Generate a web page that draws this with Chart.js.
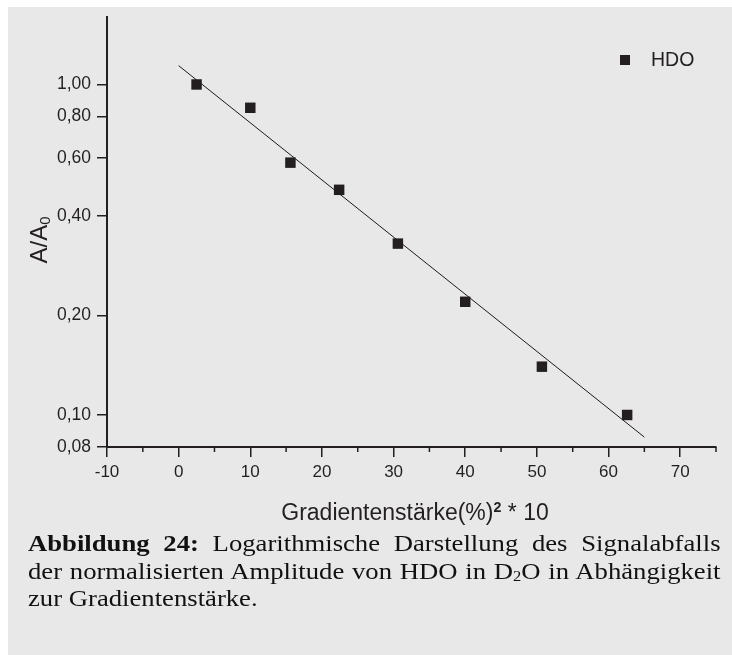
<!DOCTYPE html>
<html lang="de">

<head>
    <meta charset="UTF-8">
    <title>Abbildung 24 - Signalabfall HDO</title>

    <!-- Chart.js -->
    <script src="https://cdn.jsdelivr.net/npm/chart.js"></script>

    <style>
        html, body {
            margin: 0;
            padding: 0;
            background: #ffffff;
            width: 732px;
            height: 655px;
            overflow: hidden;
        }

        /* grey figure panel */
        .panel {
            position: absolute;
            left: 8px;
            top: 7px;
            width: 724px;
            height: 648px;
            background: #e8e8e8;
        }

        #chart {
            position: absolute;
            left: 0;
            top: 0;
        }

        .sans {
            font-family: "Liberation Sans", Arial, sans-serif;
            color: #231f20;
        }

        /* y axis title, turned on its side */
        .ytitle {
            position: absolute;
            left: -11px;
            top: 225px;
            width: 100px;
            height: 30px;
            line-height: 30px;
            font-size: 24px;
            text-align: center;
            transform: rotate(-90deg);
        }

        .ytitle sub {
            font-size: 0.62em;
            vertical-align: -0.2em;
            line-height: 0;
        }

        /* x axis title */
        .xtitle {
            position: absolute;
            left: 215px;
            top: 497px;
            width: 400px;
            line-height: 30px;
            font-size: 23px;
            text-align: center;
        }

        .xtitle sup {
            font-size: 0.62em;
            font-weight: bold;
            vertical-align: 0.55em;
            line-height: 0;
        }

        /* legend box, top right */
        .legend {
            position: absolute;
            left: 620px;
            top: 46px;
            font-size: 19.5px;
            line-height: 26px;
        }

        .legend .mark {
            display: inline-block;
            width: 10px;
            height: 10px;
            background: #231f20;
            margin-right: 21px;
            vertical-align: 1px;
        }

        /* figure caption */
        .caption {
            position: absolute;
            left: 28px;
            top: 530px;
            width: 597px;
            font-family: "Liberation Serif", "Times New Roman", serif;
            font-size: 23px;
            line-height: 27.5px;
            color: #111;
            text-align: justify;
            transform: scaleX(1.16);
            transform-origin: left top;
        }

        .caption sub {
            font-size: 0.62em;
            vertical-align: -0.15em;
            line-height: 0;
        }
    </style>
</head>

<body>

<div class="panel"></div>

<!-- chart canvas -->
<canvas id="chart" width="732" height="540"></canvas>

<!-- axis titles -->
<div class="sans ytitle">A/A<sub>0</sub></div>
<div class="sans xtitle">Gradientenstärke(%)<sup>2</sup> * 10</div>

<!-- legend -->
<div class="sans legend"><span class="mark"></span>HDO</div>

<!-- caption below the figure -->
<div class="caption">
    <b>Abbildung 24:</b> Logarithmische Darstellung des Signalabfalls
    der normalisierten Amplitude von HDO in D<sub>2</sub>O in Abhängigkeit
    zur Gradientenstärke.
</div>

<script>
    const hdoX = [2.5, 10, 15.6, 22.4, 30.6, 40, 50.7, 62.6];
    const hdoY = [1.00, 0.85, 0.58, 0.48, 0.33, 0.22, 0.14, 0.10];

    // fitted straight line (ends of the drawn line)
    const fitX = [0, 65];
    const fitY = [1.14, 0.0857];

    // axis ticks
    const xTicks = [-10, 0, 10, 20, 30, 40, 50, 60, 70];
    const xMinorTicks = [-5, 5, 15, 25, 35, 45, 55, 65, 75];
    const yTicks = [0.08, 0.10, 0.20, 0.40, 0.60, 0.80, 1.00];

    const ink = '#231f20';

    Chart.defaults.font.family = '"Liberation Sans", Arial, sans-serif';
    Chart.defaults.color = ink;

    // small ticks between the labelled ones on the x axis
    const minorTicks = {
        id: 'minorTicks',
        afterDraw(chart) {
            const x = chart.scales.x;
            const ctx = chart.ctx;
            ctx.save();
            ctx.strokeStyle = ink;
            ctx.lineWidth = 1.5;
            xMinorTicks.forEach(v => {
                const px = x.getPixelForValue(v);
                ctx.beginPath();
                ctx.moveTo(px, x.top);
                ctx.lineTo(px, x.top + 5);
                ctx.stroke();
            });
            ctx.restore();
        }
    };

    const hdoPoints = hdoX.map((x, i) => ({ x: x, y: hdoY[i] }));
    const fitPoints = fitX.map((x, i) => ({ x: x, y: fitY[i] }));

    new Chart(document.getElementById('chart').getContext('2d'), {
        type: 'scatter',
        data: {
            datasets: [{
                label: 'HDO',
                data: hdoPoints,
                pointStyle: 'rect',
                pointRadius: 7.4,
                pointHoverRadius: 7.4,
                backgroundColor: ink,
                borderColor: ink,
                borderWidth: 0
            }, {
                label: 'Fit',
                type: 'line',
                data: fitPoints,
                borderColor: '#1a1a1a',
                borderWidth: 1,
                pointRadius: 0,
                fill: false
            }]
        },
        options: {
            responsive: false,
            animation: false,
            layout: {
                padding: { top: 17, right: 16, left: 0, bottom: 0 }
            },
            plugins: {
                legend: { display: false },
                tooltip: { enabled: false }
            },
            scales: {
                x: {
                    type: 'linear',
                    min: -10,
                    max: 75,
                    afterBuildTicks: scale => {
                        scale.ticks = xTicks.map(v => ({ value: v }));
                    },
                    afterFit: scale => {
                        scale.height = 93;
                    },
                    ticks: {
                        font: { size: 17 },
                        padding: 5,
                        maxRotation: 0
                    },
                    grid: {
                        drawOnChartArea: false,
                        drawTicks: true,
                        tickLength: 10,
                        color: ink,
                        lineWidth: 1.5
                    },
                    border: { display: true, color: ink, width: 2 }
                },
                y: {
                    type: 'logarithmic',
                    min: 0.08,
                    max: 1.6,
                    afterBuildTicks: scale => {
                        scale.ticks = yTicks.map(v => ({ value: v }));
                    },
                    afterFit: scale => {
                        scale.width = 107;
                    },
                    ticks: {
                        font: { size: 17.5 },
                        padding: 6,
                        callback: v => Number(v).toFixed(2).replace('.', ',')
                    },
                    grid: {
                        drawOnChartArea: false,
                        drawTicks: true,
                        tickLength: 10,
                        color: ink,
                        lineWidth: 1.5
                    },
                    border: { display: true, color: ink, width: 2 }
                }
            }
        },
        plugins: [minorTicks]
    });
</script>
</body>
</html>
